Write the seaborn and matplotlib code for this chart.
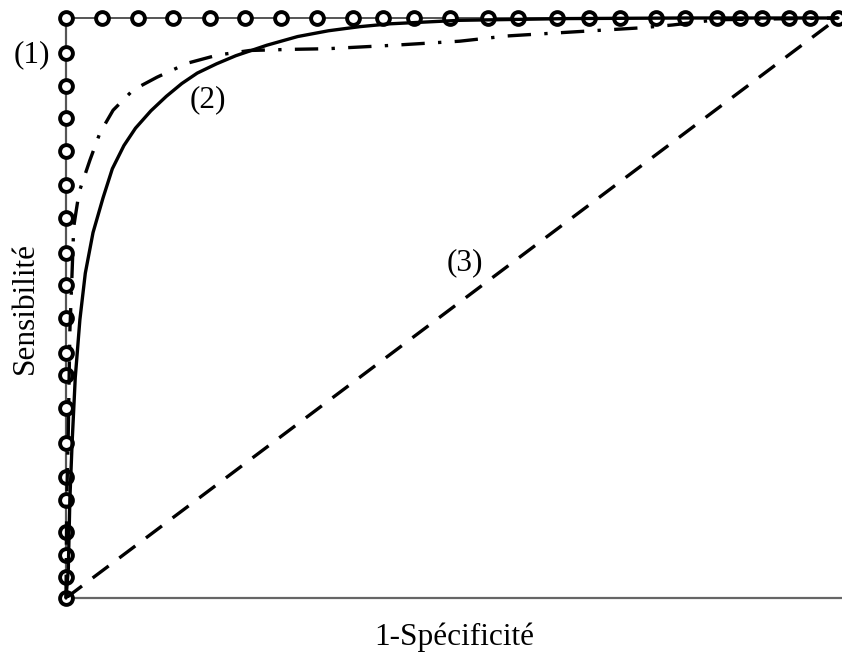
import matplotlib
matplotlib.use("Agg")
import matplotlib.pyplot as plt
import pandas as pd
import seaborn as sns

# Courbe (1) : test parfait
sens_parfait = [0.0, 0.037, 0.074, 0.114, 0.169, 0.209, 0.267, 0.327, 0.384, 0.422,
                0.483, 0.540, 0.594, 0.655, 0.712, 0.770, 0.827, 0.883, 0.940, 1.0]
spec_parfait = [0.046, 0.093, 0.139, 0.186, 0.232, 0.278, 0.325, 0.372, 0.411, 0.451,
                0.497, 0.546, 0.585, 0.636, 0.677, 0.718, 0.764, 0.802, 0.843, 0.873,
                0.901, 0.936, 0.964, 1.0]

# Courbe (2) : test réel (trait plein)
fpr_2 = [0.0, 0.003, 0.005, 0.008, 0.012, 0.018, 0.025, 0.035, 0.048, 0.06, 0.075, 0.09,
         0.11, 0.13, 0.15, 0.17, 0.195, 0.22, 0.26, 0.30, 0.34, 0.38, 0.42, 0.51, 0.65, 0.8, 1.0]
tpr_2 = [0.0, 0.05, 0.17, 0.27, 0.38, 0.48, 0.56, 0.63, 0.69, 0.74, 0.78, 0.81,
         0.84, 0.865, 0.887, 0.905, 0.921, 0.935, 0.953, 0.968, 0.978, 0.985, 0.99, 0.996,
         0.999, 1.0, 1.0]

# Courbe intermédiaire (tiret-point)
fpr_dd = [0.0, 0.001, 0.003, 0.005, 0.008, 0.01, 0.017, 0.031, 0.044, 0.061, 0.087, 0.118,
          0.157, 0.196, 0.238, 0.294, 0.338, 0.424, 0.51, 0.571, 0.657, 0.744, 0.786, 0.843, 1.0]
tpr_dd = [0.0, 0.17, 0.29, 0.46, 0.566, 0.64, 0.70, 0.755, 0.802, 0.841, 0.876, 0.898,
          0.922, 0.936, 0.944, 0.946, 0.947, 0.953, 0.960, 0.969, 0.976, 0.983, 0.988, 0.997, 1.0]

# Courbe (3) : test non informatif
fpr_3 = [0.0, 1.0]
tpr_3 = [0.0, 1.0]

sns.set_style("white")
plt.rcParams['font.family'] = ['Liberation Serif', 'DejaVu Serif']
plt.rcParams['text.color'] = 'black'
plt.rcParams['axes.labelcolor'] = 'black'

fig = plt.figure(figsize=(8.42, 6.53), dpi=100)
ax = fig.add_axes([66 / 842, 55 / 653, 1 - 66 / 842, 580 / 653])

# courbe (1) : montée verticale puis palier horizontal
x1 = [0.0] * len(sens_parfait) + spec_parfait
y1 = sens_parfait + [1.0] * len(spec_parfait)
df1 = pd.DataFrame({"x": x1, "y": y1})
ax.plot(df1["x"], df1["y"], color="#555555", lw=1.4, zorder=3, clip_on=False)
sns.scatterplot(data=df1, x="x", y="y", ax=ax, marker="o", s=85, facecolor="white",
                edgecolor="black", linewidth=2.8, zorder=4, clip_on=False)

df2 = pd.DataFrame({"x": fpr_2, "y": tpr_2})
sns.lineplot(data=df2, x="x", y="y", ax=ax, color="black", lw=2.4, sort=False,
             estimator=None, zorder=5, clip_on=False)

dfd = pd.DataFrame({"x": fpr_dd, "y": tpr_dd})
sns.lineplot(data=dfd, x="x", y="y", ax=ax, color="black", lw=2.4, sort=False,
             estimator=None, zorder=5, clip_on=False)
ax.lines[-1].set_dashes([7, 4, 1, 4])

df3 = pd.DataFrame({"x": fpr_3, "y": tpr_3})
sns.lineplot(data=df3, x="x", y="y", ax=ax, color="black", lw=2.4, zorder=5)
ax.lines[-1].set_dashes([6, 4])

ax.set_xlim(0, 1.0052)
ax.set_ylim(0, 1)
ax.set_xticks([])
ax.set_yticks([])
for side in ["top", "right"]:
    ax.spines[side].set_visible(False)
for side in ["left", "bottom"]:
    ax.spines[side].set_color("#666666")
    ax.spines[side].set_linewidth(1.6)

ax.set_xlabel("1-Spécificité", fontsize=22.5, labelpad=18)
ax.set_ylabel("Sensibilité", fontsize=22.5, labelpad=19)

ax.text(-0.044, 0.936, "(1)", fontsize=22.5, ha="center", va="center", clip_on=False)
ax.text(0.184, 0.859, "(2)", fontsize=22.5, ha="center", va="center")
ax.text(0.517, 0.578, "(3)", fontsize=22.5, ha="center", va="center")

fig.savefig("out.png", dpi=100)
